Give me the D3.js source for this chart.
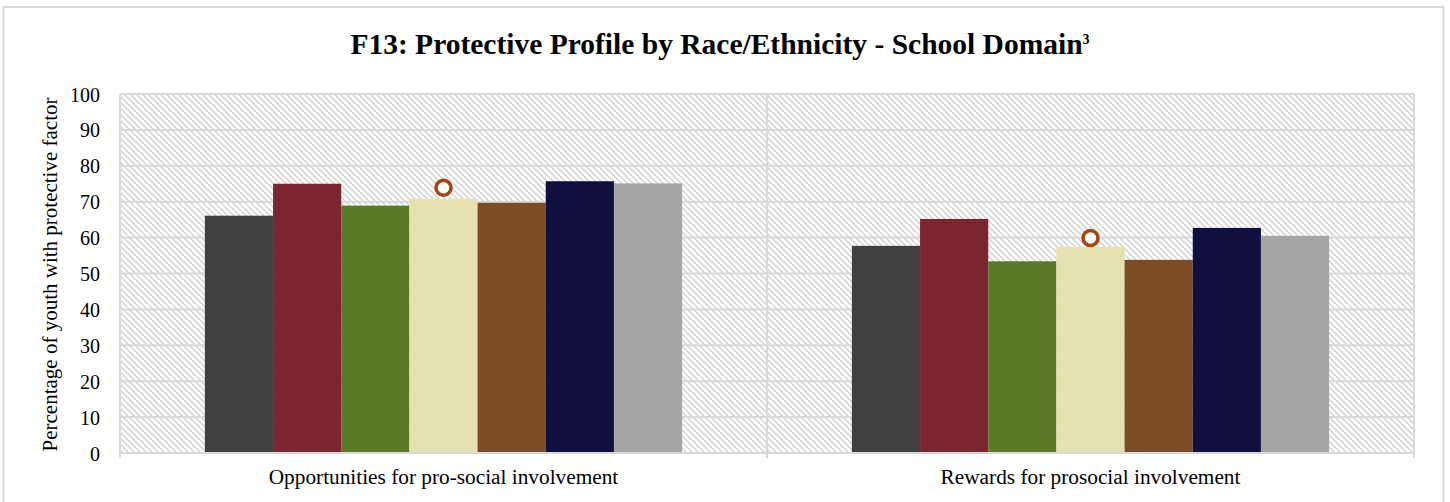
<!DOCTYPE html>
<html>
<head>
<meta charset="utf-8">
<script src="https://cdn.jsdelivr.net/npm/d3@7"></script>
<style>
  html, body { margin: 0; padding: 0; background: #fff; }
  svg { display: block; }
</style>
</head>
<body>
<svg id="chart" width="1450" height="502"></svg>
<script>
// Domains on the x axis
const categories = ["Opportunities for pro-social involvement", "Rewards for prosocial involvement"];
// Race/ethnicity groups, one bar each per domain
const groups = ["Group 1", "Group 2", "Group 3", "Group 4", "Group 5", "Group 6", "Group 7"];
const opportunitiesValues = [66.1, 75.0, 68.9, 70.8, 69.7, 75.7, 75.1];
const rewardsValues = [57.7, 65.2, 53.4, 57.4, 53.8, 62.7, 60.5];
// Reference point marker shown above the fourth bar of each domain
const markerValues = [73.9, 59.9];
const yTicks = [0, 10, 20, 30, 40, 50, 60, 70, 80, 90, 100];
const barColors = ["#404040", "#7b2530", "#5a7a27", "#e6e1b1", "#7b4c25", "#100f40", "#a5a5a5"];

const seriesByCategory = [opportunitiesValues, rewardsValues];

const svg = d3.select("#chart");
const serif = "'Liberation Serif', 'Times New Roman', serif";

// Outer chart frame
svg.append("rect")
  .attr("x", 3.5).attr("y", 7)
  .attr("width", 1440).attr("height", 510)
  .attr("fill", "#fff").attr("stroke", "#d9d9d9").attr("stroke-width", 2);

// Diagonal hatch used for the plot background
const defs = svg.append("defs");
const pat = defs.append("pattern")
  .attr("id", "hatch")
  .attr("patternUnits", "userSpaceOnUse")
  .attr("width", 6).attr("height", 6);
pat.append("rect").attr("width", 6).attr("height", 6).attr("fill", "#fff");
pat.append("path")
  .attr("d", "M-1,-1 L7,7 M-7,-1 L1,7 M5,-1 L13,7")
  .attr("stroke", "#cfcfcf").attr("stroke-width", 1.3);

const margin = { left: 120, right: 1414, top: 94, bottom: 453 };

const x0 = d3.scaleBand()
  .domain(categories)
  .range([margin.left, margin.right])
  .paddingInner(0).paddingOuter(0);

const x1 = d3.scaleBand()
  .domain(groups)
  .range([0, x0.bandwidth()])
  .paddingOuter(1.245).paddingInner(0);

const y = d3.scaleLinear().domain([0, 100]).range([margin.bottom, margin.top]);

// Plot background
svg.append("rect")
  .attr("x", margin.left).attr("y", margin.top)
  .attr("width", margin.right - margin.left)
  .attr("height", margin.bottom - margin.top)
  .attr("fill", "url(#hatch)");

// Horizontal gridlines
svg.append("g")
  .selectAll("line")
  .data(yTicks.filter(d => d > 0))
  .join("line")
  .attr("x1", margin.left).attr("x2", margin.right)
  .attr("y1", d => y(d)).attr("y2", d => y(d))
  .attr("stroke", "#d9d9d9").attr("stroke-width", 2);

// Vertical boundaries between categories
svg.append("g")
  .selectAll("line")
  .data([margin.left, x0(categories[1]), margin.right])
  .join("line")
  .attr("x1", d => d).attr("x2", d => d)
  .attr("y1", margin.top).attr("y2", margin.bottom + 5)
  .attr("stroke", "#d9d9d9").attr("stroke-width", 2);

// Bars
const catG = svg.append("g")
  .selectAll("g")
  .data(categories)
  .join("g")
  .attr("transform", d => `translate(${x0(d)},0)`);

catG.selectAll("rect")
  .data((d, i) => seriesByCategory[i].map((v, j) => ({ group: groups[j], value: v, color: barColors[j] })))
  .join("rect")
  .attr("x", d => x1(d.group))
  .attr("y", d => y(d.value))
  .attr("width", x1.bandwidth())
  .attr("height", d => y(0) - y(d.value))
  .attr("fill", d => d.color);

// Markers over the fourth bar
catG.append("circle")
  .attr("cx", x1(groups[3]) + x1.bandwidth() / 2)
  .attr("cy", (d, i) => y(markerValues[i]))
  .attr("r", 7.5)
  .attr("fill", "#fff")
  .attr("stroke", "#a3470d")
  .attr("stroke-width", 3.5);

// Baseline axis
svg.append("line")
  .attr("x1", margin.left).attr("x2", margin.right)
  .attr("y1", margin.bottom).attr("y2", margin.bottom)
  .attr("stroke", "#d9d9d9").attr("stroke-width", 2);

// Y axis labels
const yAxis = d3.axisLeft(y).tickValues(yTicks).tickSize(0).tickPadding(0);
const yG = svg.append("g")
  .attr("transform", `translate(${margin.left - 20},0)`)
  .call(yAxis);
yG.select(".domain").remove();
yG.selectAll("text")
  .attr("font-family", serif)
  .attr("font-size", 20)
  .attr("fill", "#000")
  .attr("dy", "0.35em");

// X axis labels
const xAxis = d3.axisBottom(x0).tickSize(0).tickPadding(0);
const xG = svg.append("g")
  .attr("transform", `translate(0,${margin.bottom})`)
  .call(xAxis);
xG.select(".domain").remove();
xG.selectAll("text")
  .attr("font-family", serif)
  .attr("font-size", 21.3)
  .attr("fill", "#000")
  .attr("dy", 0)
  .attr("y", 30.5);

// Y axis title
svg.append("text")
  .attr("transform", `translate(57,${(margin.top + margin.bottom) / 2 + 1}) rotate(-90)`)
  .attr("text-anchor", "middle")
  .attr("font-family", serif)
  .attr("font-size", 21)
  .text("Percentage of youth with protective factor");

// Chart title
const title = svg.append("text")
  .attr("x", 720).attr("y", 54)
  .attr("text-anchor", "middle")
  .attr("font-family", serif)
  .attr("font-weight", "bold")
  .attr("font-size", 29.5)
  .text("F13: Protective Profile by Race/Ethnicity - School Domain");
title.append("tspan")
  .attr("font-size", 14)
  .attr("dy", -10)
  .text("3");
</script>
</body>
</html>
